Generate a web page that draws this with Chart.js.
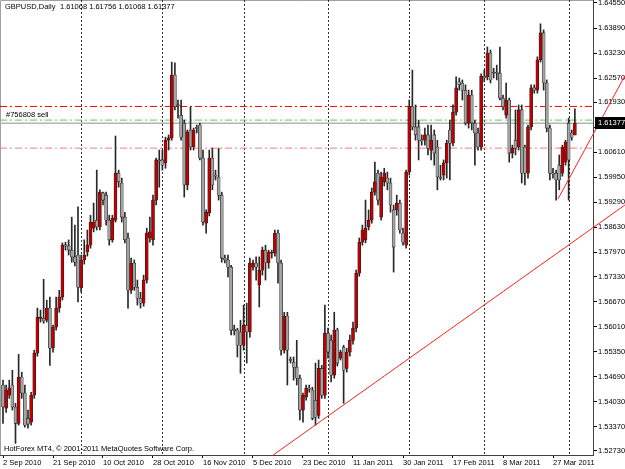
<!DOCTYPE html>
<html>
<head>
<meta charset="utf-8">
<title>GBPUSD Daily</title>
<script src="https://cdn.jsdelivr.net/npm/chart.js@4.4.1/dist/chart.umd.min.js"></script>
<style>
    html, body { margin: 0; padding: 0; background: #fff; }
    #wrap { width: 625px; height: 469px; }
</style>
</head>
<body>
<div id="wrap"><canvas id="chart" width="625" height="469"></canvas></div>
<script>
// Daily bars, 2 Sep 2010 .. 4 Apr 2011 (Sunday bars included)
const opens = [
    1.5447, 1.5386, 1.5420, 1.5447, 1.5389, 1.5346, 1.5468, 1.5426, 1.5359, 1.5349,
    1.5420, 1.5531, 1.5623, 1.5623, 1.5618, 1.5650, 1.5544, 1.5600, 1.5650, 1.5679,
    1.5816, 1.5814, 1.5803, 1.5785, 1.5790, 1.5703, 1.5777, 1.5798, 1.5816, 1.5861,
    1.5882, 1.5864, 1.5954, 1.5948, 1.5882, 1.5830, 1.5882, 1.6006, 1.5980, 1.5890,
    1.5835, 1.5697, 1.5769, 1.5705, 1.5676, 1.5663, 1.5724, 1.5835, 1.5830, 1.5935,
    1.6041, 1.6041, 1.6033, 1.6093, 1.6099, 1.6265, 1.6186, 1.6159, 1.6138, 1.5975,
    1.6120, 1.6075, 1.6125, 1.6133, 1.6046, 1.5874, 1.5901, 1.6046, 1.6001, 1.5996,
    1.5948, 1.5782, 1.5777, 1.5758, 1.5594, 1.5592, 1.5587, 1.5552, 1.5605, 1.5587,
    1.5758, 1.5769, 1.5711, 1.5750, 1.5803, 1.5769, 1.5795, 1.5795, 1.5848, 1.5769,
    1.5539, 1.5629, 1.5513, 1.5507, 1.5494, 1.5465, 1.5381, 1.5415, 1.5439, 1.5434,
    1.5407, 1.5367, 1.5491, 1.5420, 1.5584, 1.5565, 1.5473, 1.5592, 1.5518, 1.5547,
    1.5491, 1.5534, 1.5565, 1.5597, 1.5742, 1.5824, 1.5830, 1.5864, 1.5882, 1.5956,
    1.6006, 1.5890, 1.5983, 1.5993, 1.5980, 1.5909, 1.5909, 1.5927, 1.5848, 1.5816,
    1.6009, 1.6181, 1.6128, 1.6128, 1.6093, 1.6093, 1.6107, 1.6067, 1.6107, 1.6075,
    1.5996, 1.6001, 1.6033, 1.6120, 1.6085, 1.6167, 1.6247, 1.6244, 1.6225, 1.6138,
    1.6212, 1.6138, 1.6112, 1.6075, 1.6262, 1.6260, 1.6323, 1.6273, 1.6273, 1.6270,
    1.6204, 1.6159, 1.6199, 1.6059, 1.6093, 1.6075, 1.6173, 1.6075, 1.6006, 1.6128,
    1.6231, 1.6225, 1.6305, 1.6376, 1.6244, 1.6125, 1.6006, 1.6006, 1.6027, 1.6006,
    1.6035, 1.6138, 1.6112, 1.61068
];
const highs = [
    1.5460, 1.5447, 1.5460, 1.5486, 1.5399, 1.5528, 1.5481, 1.5447, 1.5381, 1.5428,
    1.5539, 1.5650, 1.5645, 1.5726, 1.5671, 1.5679, 1.5605, 1.5679, 1.5697, 1.5822,
    1.5824, 1.5830, 1.5890, 1.5869, 1.5917, 1.5790, 1.5830, 1.5856, 1.5895, 1.5927,
    1.6014, 1.5962, 1.5956, 1.5956, 1.5895, 1.5895, 1.6104, 1.6014, 1.5993, 1.5903,
    1.5848, 1.5782, 1.5777, 1.5724, 1.5692, 1.5737, 1.5861, 1.5890, 1.5948, 1.6046,
    1.6067, 1.6067, 1.6101, 1.6107, 1.6299, 1.6297, 1.6199, 1.6199, 1.6146, 1.6120,
    1.6181, 1.6125, 1.6133, 1.6138, 1.6067, 1.5909, 1.6067, 1.6072, 1.6014, 1.6072,
    1.5956, 1.5790, 1.5790, 1.5763, 1.5605, 1.5597, 1.5618, 1.5658, 1.5663, 1.5782,
    1.5777, 1.5785, 1.5785, 1.5811, 1.5816, 1.5803, 1.5803, 1.5856, 1.5856, 1.5777,
    1.5639, 1.5639, 1.5521, 1.5521, 1.5565, 1.5473, 1.5426, 1.5447, 1.5447, 1.5441,
    1.5505, 1.5513, 1.5499, 1.5658, 1.5597, 1.5579, 1.5639, 1.5597, 1.5539, 1.5552,
    1.5544, 1.5579, 1.5613, 1.5750, 1.5835, 1.5869, 1.5935, 1.5909, 1.5967, 1.6035,
    1.6014, 1.6009, 1.6019, 1.6009, 1.5993, 1.5922, 1.5948, 1.5935, 1.5861, 1.6014,
    1.6199, 1.6278, 1.6186, 1.6146, 1.6107, 1.6125, 1.6133, 1.6133, 1.6120, 1.6093,
    1.6027, 1.6041, 1.6093, 1.6146, 1.6186, 1.6260, 1.6257, 1.6252, 1.6239, 1.6225,
    1.6225, 1.6146, 1.6125, 1.6268, 1.6278, 1.6339, 1.6331, 1.6283, 1.6291, 1.6339,
    1.6212, 1.6244, 1.6204, 1.6080, 1.6173, 1.6186, 1.6186, 1.6080, 1.6133, 1.6239,
    1.6239, 1.6313, 1.6400, 1.6384, 1.6252, 1.6133, 1.6019, 1.6014, 1.6054, 1.6080,
    1.6093, 1.6151, 1.6120, 1.61756
];
const lows = [
    1.5346, 1.5375, 1.5412, 1.5381, 1.5293, 1.5341, 1.5412, 1.5336, 1.5333, 1.5341,
    1.5412, 1.5523, 1.5613, 1.5610, 1.5613, 1.5499, 1.5534, 1.5592, 1.5639, 1.5671,
    1.5803, 1.5790, 1.5771, 1.5761, 1.5666, 1.5692, 1.5766, 1.5787, 1.5808, 1.5851,
    1.5856, 1.5856, 1.5922, 1.5869, 1.5816, 1.5824, 1.5877, 1.5969, 1.5877, 1.5822,
    1.5650, 1.5689, 1.5697, 1.5658, 1.5650, 1.5655, 1.5716, 1.5824, 1.5816, 1.5922,
    1.5969, 1.6014, 1.6019, 1.6067, 1.6093, 1.6173, 1.6151, 1.6093, 1.5943, 1.5962,
    1.6067, 1.6067, 1.6112, 1.6041, 1.5869, 1.5848, 1.5893, 1.5962, 1.5988, 1.5935,
    1.5771, 1.5769, 1.5732, 1.5579, 1.5579, 1.5521, 1.5478, 1.5539, 1.5505, 1.5573,
    1.5750, 1.5724, 1.5653, 1.5737, 1.5724, 1.5755, 1.5782, 1.5787, 1.5716, 1.5526,
    1.5531, 1.5447, 1.5505, 1.5460, 1.5447, 1.5355, 1.5349, 1.5407, 1.5428, 1.5355,
    1.5341, 1.5359, 1.5412, 1.5412, 1.5518, 1.5455, 1.5465, 1.5497, 1.5513, 1.5399,
    1.5481, 1.5523, 1.5555, 1.5587, 1.5734, 1.5816, 1.5822, 1.5856, 1.5874, 1.5948,
    1.5922, 1.5882, 1.5972, 1.5962, 1.5903, 1.5745, 1.5895, 1.5848, 1.5816, 1.5808,
    1.6001, 1.6120, 1.6093, 1.6041, 1.6080, 1.6080, 1.6054, 1.6041, 1.6027, 1.5962,
    1.5988, 1.5988, 1.5993, 1.5988, 1.6078, 1.6159, 1.6225, 1.6199, 1.6133, 1.6125,
    1.6120, 1.6027, 1.6067, 1.6067, 1.6247, 1.6252, 1.6244, 1.6257, 1.6252, 1.6199,
    1.6173, 1.6151, 1.6035, 1.6046, 1.6054, 1.6067, 1.5980, 1.5975, 1.5993, 1.6120,
    1.6217, 1.6217, 1.6299, 1.6225, 1.6115, 1.5988, 1.5993, 1.5935, 1.5962, 1.5998,
    1.6027, 1.5935, 1.6093, 1.61068
];
const closes = [
    1.5389, 1.5434, 1.5439, 1.5389, 1.5346, 1.5468, 1.5426, 1.5341, 1.5344, 1.5420,
    1.5531, 1.5626, 1.5626, 1.5616, 1.5650, 1.5544, 1.5600, 1.5650, 1.5679, 1.5816,
    1.5814, 1.5803, 1.5785, 1.5771, 1.5705, 1.5777, 1.5790, 1.5816, 1.5877, 1.5877,
    1.5864, 1.5956, 1.5935, 1.5882, 1.5830, 1.5887, 1.6006, 1.5983, 1.5890, 1.5830,
    1.5697, 1.5769, 1.5705, 1.5676, 1.5663, 1.5724, 1.5848, 1.5851, 1.5935, 1.6041,
    1.6038, 1.6027, 1.6093, 1.6099, 1.6265, 1.6181, 1.6183, 1.6101, 1.5975, 1.6115,
    1.6075, 1.6120, 1.6124, 1.6046, 1.5877, 1.5903, 1.6046, 1.5975, 1.5998, 1.5948,
    1.5782, 1.5777, 1.5758, 1.5592, 1.5590, 1.5552, 1.5552, 1.5605, 1.5587, 1.5769,
    1.5769, 1.5758, 1.5750, 1.5803, 1.5769, 1.5798, 1.5796, 1.5848, 1.5769, 1.5539,
    1.5629, 1.5539, 1.5512, 1.5494, 1.5465, 1.5381, 1.5420, 1.5439, 1.5436, 1.5359,
    1.5362, 1.5491, 1.5420, 1.5584, 1.5534, 1.5473, 1.5592, 1.5505, 1.5534, 1.5486,
    1.5534, 1.5565, 1.5597, 1.5742, 1.5824, 1.5856, 1.5861, 1.5882, 1.5956, 1.5983,
    1.5935, 1.5996, 1.6006, 1.5980, 1.5922, 1.5811, 1.5927, 1.5856, 1.5824, 1.6009,
    1.6181, 1.6128, 1.6107, 1.6093, 1.6091, 1.6107, 1.6072, 1.6093, 1.6059, 1.5996,
    1.5993, 1.6033, 1.6085, 1.6085, 1.6167, 1.6231, 1.6239, 1.6225, 1.6138, 1.6212,
    1.6138, 1.6112, 1.6075, 1.6262, 1.6257, 1.6323, 1.6252, 1.6270, 1.6270, 1.6204,
    1.6181, 1.6199, 1.6059, 1.6072, 1.6072, 1.6173, 1.6006, 1.6006, 1.6128, 1.6231,
    1.6225, 1.6305, 1.6376, 1.6244, 1.6125, 1.6006, 1.6004, 1.5988, 1.5988, 1.6075,
    1.6088, 1.6041, 1.6101, 1.61377
];

// time axis labels (bar index -> date text)
const dateLabelBars = [0, 16, 32, 48, 64, 80, 96, 112, 128, 144, 160, 176];
const dateLabels = ['2 Sep 2010', '21 Sep 2010', '10 Oct 2010', '28 Oct 2010', '16 Nov 2010', '5 Dec 2010',
    '23 Dec 2010', '11 Jan 2011', '30 Jan 2011', '17 Feb 2011', '8 Mar 2011', '27 Mar 2011'];
// first bar of each month (period separators)
const monthStartBars = [25, 51, 77, 104, 130, 154, 181];

const priceTicks = [1.52730, 1.53370, 1.54030, 1.54690, 1.55350, 1.56010, 1.56670, 1.57330, 1.57970,
    1.58630, 1.59290, 1.59950, 1.60610, 1.61270, 1.61930, 1.62570, 1.63230, 1.63890, 1.64550];

// order levels
const stopLossLevel = 1.6182;
const sellLevel = 1.6146;
const takeProfitLevel = 1.6072;
const bidPrice = 1.61377;
const orderLabel = '#756808 sell';

// trend lines: [bar, price] end points
const trendLongBars = [86.4, 199.0];
const trendLongPrices = [1.5262, 1.5922];
const trendShortBars = [177.6, 199.0];
const trendShortPrices = [1.5938, 1.6263];

const symbolTitle = 'GBPUSD,Daily';
const copyright = 'HotForex MT4, \u00a9 2001-2011 MetaQuotes Software Corp.';

const VIEW_FIRST = -0.96, VIEW_LAST = 188.8;
const FONT_FAMILY = "'Liberation Sans', Arial, sans-serif";
const FONT_SIZE = 7.5;

const up = opens.map((o, i) => closes[i] >= o);
const bodyData = opens.map((o, i) => ({ x: i, y: [o, closes[i]] }));
const wickData = opens.map((o, i) => ({ x: i, y: [lows[i], highs[i]] }));

const levelLine = (price, color, dash, width) => ({
    type: 'line',
    data: [{ x: VIEW_FIRST, y: price }, { x: VIEW_LAST, y: price }],
    borderColor: color,
    borderWidth: width,
    borderDash: dash,
    pointRadius: 0,
    order: 5
});
const trendLine = (bars, prices) => ({
    type: 'line',
    data: bars.map((b, i) => ({ x: b, y: prices[i] })),
    borderColor: '#ff2020',
    borderWidth: 1,
    pointRadius: 0,
    clip: false,
    order: 0
});

const overlay = {
    id: 'overlay',
    beforeDatasetsDraw(chart) {
        const { ctx, chartArea: a, scales: { x } } = chart;
        ctx.save();
        // frame (top / left)
        ctx.strokeStyle = '#a0a0a0';
        ctx.lineWidth = 1;
        ctx.beginPath();
        ctx.moveTo(a.left + 0.5, a.bottom);
        ctx.lineTo(a.left + 0.5, a.top + 0.5);
        ctx.lineTo(a.right, a.top + 0.5);
        ctx.stroke();
        // monthly separators
        ctx.strokeStyle = '#303030';
        ctx.setLineDash([2, 2]);
        monthStartBars.forEach(b => {
            const px = Math.round(x.getPixelForValue(b)) + 0.5;
            ctx.beginPath();
            ctx.moveTo(px, a.top);
            ctx.lineTo(px, a.bottom);
            ctx.stroke();
        });
        ctx.restore();
    },
    afterDraw(chart) {
        const { ctx, chartArea: a, scales: { y } } = chart;
        const last = closes.length - 1;
        ctx.save();
        ctx.font = FONT_SIZE + 'px ' + FONT_FAMILY;
        ctx.textBaseline = 'middle';
        ctx.textAlign = 'left';
        ctx.fillStyle = '#000';

        const ohlc = [opens[last], highs[last], lows[last], closes[last]].map(v => v.toFixed(5)).join(' ');
        ctx.fillText(symbolTitle, a.left + 5, 7);
        ctx.fillText(ohlc, a.left + 60, 7);
        ctx.fillText(orderLabel, a.left + 6, y.getPixelForValue(sellLevel) - 5);
        ctx.fillText(copyright, a.left + 4, a.bottom - 6);

        // current bid box on the price scale
        const by = Math.round(y.getPixelForValue(bidPrice));
        ctx.fillStyle = '#000';
        ctx.fillRect(a.right + 2, by - 6, chart.width - a.right - 2, 12);
        ctx.fillStyle = '#fff';
        ctx.fillText(bidPrice.toFixed(5), a.right + 5, by);
        ctx.restore();
    }
};

Chart.defaults.font.family = FONT_FAMILY;
Chart.defaults.font.size = FONT_SIZE;
Chart.defaults.color = '#000';

new Chart(document.getElementById('chart'), {
    type: 'bar',
    data: {
        datasets: [
            trendLine(trendLongBars, trendLongPrices),
            trendLine(trendShortBars, trendShortPrices),
            {
                label: 'body',
                data: bodyData,
                backgroundColor: up.map(u => u ? '#c00000' : '#a4a4a4'),
                borderColor: '#1a1a1a',
                borderWidth: 0.6,
                borderSkipped: false,
                barThickness: 3,
                minBarLength: 1,
                grouped: false,
                order: 1
            },
            {
                label: 'wick',
                data: wickData,
                backgroundColor: '#282828',
                borderWidth: 0,
                barThickness: 1,
                grouped: false,
                order: 2
            },
            levelLine(stopLossLevel, '#ff0000', [7, 3, 2, 3], 1),
            levelLine(takeProfitLevel, '#ff7a7a', [7, 3, 2, 3], 1),
            levelLine(sellLevel, '#55d055', [7, 3, 2, 3], 1),
            levelLine(bidPrice, '#b4b4b4', [], 1.5)
        ]
    },
    options: {
        responsive: false,
        animation: false,
        devicePixelRatio: 1,
        layout: { padding: 0, autoPadding: false },
        plugins: { legend: { display: false }, tooltip: { enabled: false } },
        scales: {
            x: {
                type: 'linear',
                min: VIEW_FIRST,
                max: VIEW_LAST,
                offset: false,
                grid: { offset: false, drawOnChartArea: false, drawTicks: true, tickLength: 3, color: '#000' },
                border: { display: true, color: '#404040' },
                afterBuildTicks: s => { s.ticks = dateLabelBars.map(v => ({ value: v })); },
                afterFit: s => { s.height = 14; s.paddingLeft = 0; s.paddingRight = 0; },
                ticks: {
                    autoSkip: false,
                    maxRotation: 0,
                    align: 'start',
                    padding: 0,
                    callback: (v, i) => dateLabels[i]
                }
            },
            y: {
                position: 'right',
                min: 1.52624,
                max: 1.64629,
                grid: { drawOnChartArea: false, drawTicks: true, tickLength: 4, color: '#000' },
                border: { display: true, color: '#404040' },
                afterBuildTicks: s => { s.ticks = priceTicks.map(v => ({ value: v })); },
                afterFit: s => { s.width = 32; s.paddingTop = 0; s.paddingBottom = 0; },
                ticks: {
                    padding: 1,
                    callback: v => v.toFixed(5)
                }
            }
        }
    },
    plugins: [overlay]
});
</script>
</body>
</html>
